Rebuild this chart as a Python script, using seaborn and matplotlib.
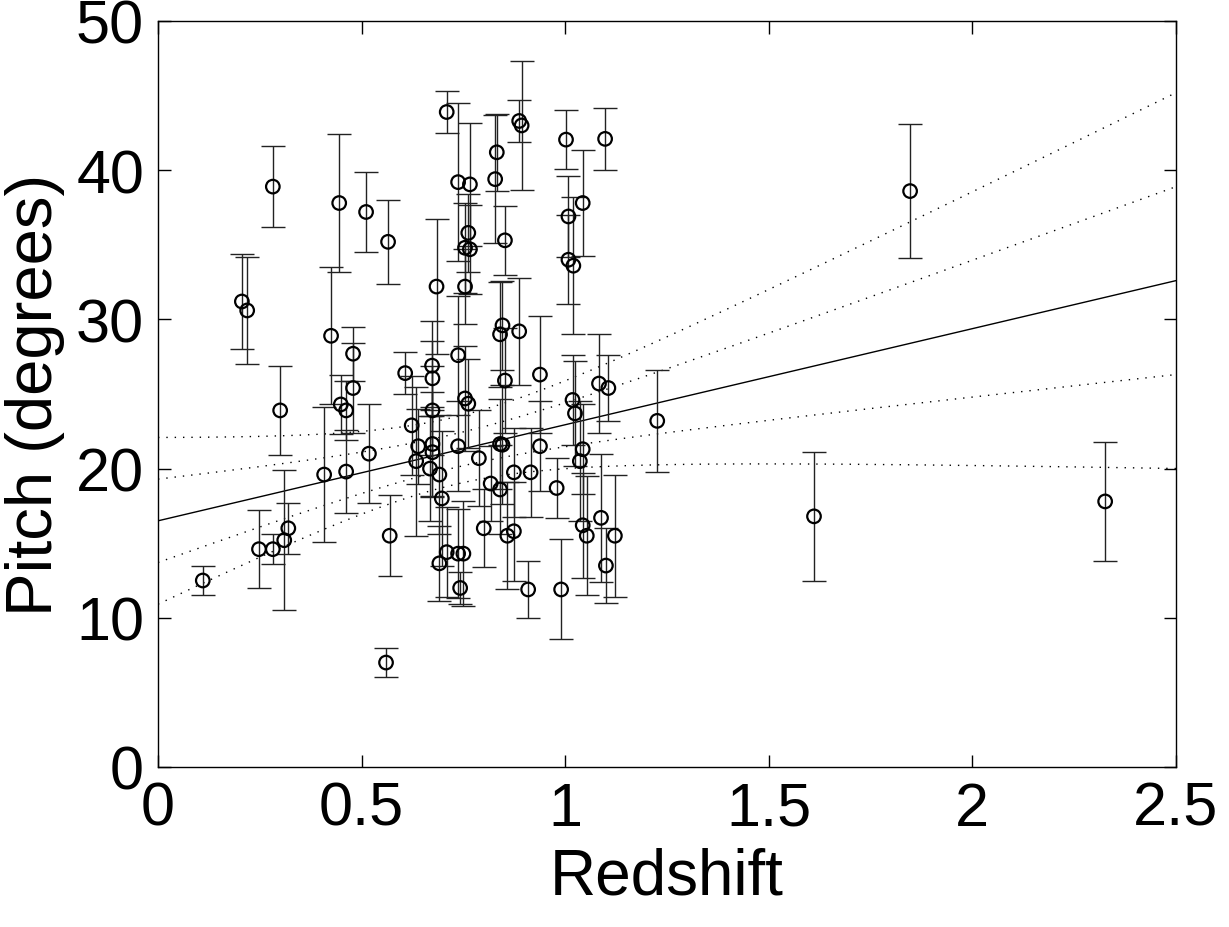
import numpy as np
import pandas as pd
import matplotlib
matplotlib.use("Agg")
import matplotlib.pyplot as plt
import seaborn as sns

# ---- data ----
redshift = [0.110, 0.206, 0.219, 0.248, 0.282, 0.282, 0.300, 0.310, 0.320, 0.408,
            0.425, 0.445, 0.449, 0.462, 0.462, 0.479, 0.479, 0.511, 0.518, 0.565,
            0.569, 0.560, 0.607, 0.623, 0.639, 0.634, 0.673, 0.674, 0.674, 0.674,
            0.674, 0.668, 0.684, 0.691, 0.697, 0.709, 0.691, 0.709, 0.737, 0.766,
            0.762, 0.754, 0.766, 0.754, 0.737, 0.754, 0.762, 0.737, 0.737, 0.750,
            0.742, 0.788, 0.800, 0.817, 0.840, 0.840, 0.832, 0.828, 0.846, 0.840,
            0.852, 0.852, 0.846, 0.858, 0.874, 0.874, 0.887, 0.893, 0.887, 0.909,
            0.915, 0.938, 0.938, 0.979, 0.990, 1.002, 1.008, 1.008, 1.020, 1.043,
            1.018, 1.024, 1.043, 1.036, 1.043, 1.053, 1.083, 1.106, 1.088, 1.122,
            1.100, 1.098, 1.226, 1.611, 1.847, 2.326]
pitch = [12.5, 31.2, 30.6, 14.6, 38.9, 14.6, 23.9, 15.2, 16.0, 19.6,
         28.9, 37.8, 24.3, 23.9, 19.8, 27.7, 25.4, 37.2, 21.0, 35.2,
         15.5, 7.0, 26.4, 22.9, 21.5, 20.5, 26.9, 26.05, 23.9, 21.65,
         21.1, 20.0, 32.2, 19.6, 18.0, 14.4, 13.65, 43.9, 39.2, 39.05,
         35.8, 34.8, 34.7, 32.2, 27.6, 24.7, 24.35, 21.5, 14.3, 14.3,
         12.0, 20.7, 16.0, 19.0, 18.6, 21.65, 41.2, 39.4, 29.6, 29.0,
         35.3, 25.9, 21.6, 15.5, 15.8, 19.75, 43.3, 43.0, 29.2, 11.9,
         19.75, 26.3, 21.5, 18.7, 11.9, 42.05, 36.9, 34.0, 33.6, 37.8,
         24.6, 23.7, 21.3, 20.5, 16.2, 15.5, 25.7, 25.4, 16.7, 15.5,
         13.5, 42.1, 23.2, 16.8, 38.6, 17.8]
pitch_err = [1.0, 3.2, 3.6, 2.6, 2.7, 1.0, 3.0, 4.7, 1.7, 4.5,
             4.6, 4.6, 2.0, 2.0, 2.8, 1.8, 3.0, 2.7, 3.3, 2.8,
             2.7, 1.0, 1.4, 3.3, 2.5, 5.0, 3.0, 2.5, 3.0, 3.5,
             3.0, 3.5, 4.5, 4.0, 4.5, 3.0, 2.5, 1.4, 5.3, 4.1,
             2.6, 3.0, 3.0, 2.5, 4.0, 3.5, 3.0, 3.0, 3.0, 3.5,
             1.1, 3.2, 2.6, 2.5, 3.0, 3.0, 2.6, 4.3, 3.0, 3.5,
             2.3, 3.5, 4.0, 3.6, 3.3, 3.0, 1.4, 4.3, 3.6, 1.9,
             3.0, 3.9, 3.0, 2.0, 3.35, 2.0, 2.7, 3.0, 4.6, 3.55,
             3.0, 3.5, 3.0, 4.0, 3.5, 4.0, 3.3, 2.2, 4.3, 4.1,
             2.5, 2.1, 3.4, 4.3, 4.5, 4.0]

# linear fit and its confidence bands (parameters)
fit_intercept = 16.5
fit_slope = 6.44
band_x_center = 0.73
band_sigma_center = 1.13
band_sigma_slope = 3.5
band_levels = [1, 2]

xticks = [0, 0.5, 1, 1.5, 2, 2.5]
xtick_labels = ["0", "0.5", "1", "1.5", "2", "2.5"]
yticks = [0, 10, 20, 30, 40, 50]
ytick_labels = ["0", "10", "20", "30", "40", "50"]

df = pd.DataFrame({"Redshift": redshift, "Pitch": pitch, "err": pitch_err})

sns.set_style("ticks")
plt.rcParams["font.family"] = ["Liberation Sans", "DejaVu Sans"]
plt.rcParams["text.color"] = "black"
plt.rcParams["axes.labelcolor"] = "black"
plt.rcParams["xtick.color"] = "black"
plt.rcParams["ytick.color"] = "black"
plt.rcParams["axes.edgecolor"] = "black"

fig = plt.figure(figsize=(12.29, 9.28), dpi=100)
ax = fig.add_axes([158 / 1229, 1 - 768 / 928, (1176 - 158) / 1229, (768 - 22) / 928])

# error bars
ax.errorbar(df["Redshift"], df["Pitch"], yerr=df["err"], fmt="none",
            ecolor="#222222", elinewidth=1.0, capsize=8.5, capthick=1.0, zorder=2)

# regression line and bands
xs = np.linspace(0, 2.5, 300)
yfit = fit_intercept + fit_slope * xs
sns.lineplot(x=xs, y=yfit, color="black", linewidth=1.0, ax=ax, zorder=1)
half = np.sqrt(band_sigma_center ** 2 + band_sigma_slope ** 2 * (xs - band_x_center) ** 2)
for k in band_levels:
    for sgn in (1, -1):
        sns.lineplot(x=xs, y=yfit + sgn * k * half, color="black", linewidth=1.0,
                     linestyle=(0, (1, 5)), ax=ax, zorder=1)

# points
sns.scatterplot(data=df, x="Redshift", y="Pitch", marker="o", s=95,
                facecolor="none", edgecolor="black", linewidth=1.6, ax=ax, zorder=3)

ax.set_xlim(0, 2.5)
ax.set_ylim(0, 50)
ax.set_xticks(xticks)
ax.set_xticklabels(xtick_labels)
ax.set_yticks(yticks)
ax.set_yticklabels(ytick_labels)
ax.tick_params(direction="in", length=9, width=1.0, top=True, right=True,
               labelsize=44, pad=10)
for sp in ax.spines.values():
    sp.set_visible(True)
    sp.set_linewidth(1.0)
ax.set_xlabel("Redshift", fontsize=46, labelpad=6)
ax.set_ylabel("Pitch (degrees)", fontsize=47, labelpad=8)

fig.savefig("out.png", dpi=100, facecolor="white")
